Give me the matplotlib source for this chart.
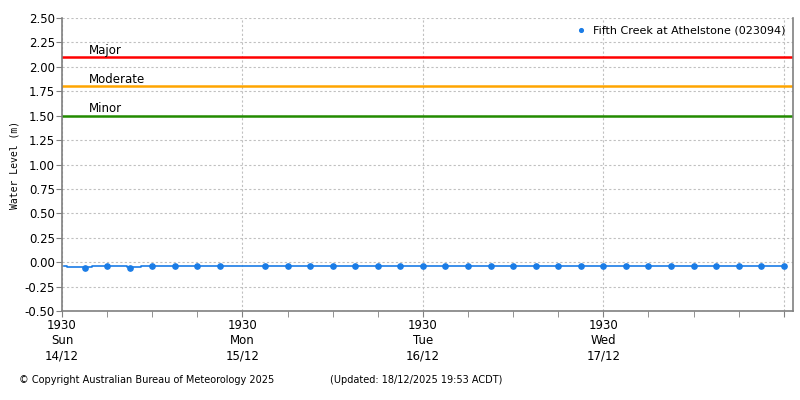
import matplotlib
matplotlib.use("Agg")
import matplotlib.pyplot as plt
import matplotlib.dates as mdates
import matplotlib.ticker as mticker
import pandas as pd

# Continuous level trace (steps where the reading changes)
line_times = ["2025-12-14 19:45", "2025-12-14 20:10", "2025-12-14 23:30",
              "2025-12-15 04:10", "2025-12-15 06:00", "2025-12-18 19:45"]
line_levels = [-0.04, -0.05, -0.035, -0.05, -0.035, -0.035]

# 3-hourly plotted readings
point_times = ["2025-12-14 22:30", "2025-12-15 01:30", "2025-12-15 04:30", "2025-12-15 07:30",
               "2025-12-15 10:30", "2025-12-15 13:30", "2025-12-15 16:30",
               "2025-12-15 22:30", "2025-12-16 01:30", "2025-12-16 04:30", "2025-12-16 07:30",
               "2025-12-16 10:30", "2025-12-16 13:30", "2025-12-16 16:30", "2025-12-16 19:30",
               "2025-12-16 22:30", "2025-12-17 01:30", "2025-12-17 04:30", "2025-12-17 07:30",
               "2025-12-17 10:30", "2025-12-17 13:30", "2025-12-17 16:30", "2025-12-17 19:30",
               "2025-12-17 22:30", "2025-12-18 01:30", "2025-12-18 04:30", "2025-12-18 07:30",
               "2025-12-18 10:30", "2025-12-18 13:30", "2025-12-18 16:30", "2025-12-18 19:30"]
point_levels = [-0.06, -0.04, -0.06, -0.04, -0.04, -0.04, -0.04,
                -0.04, -0.04, -0.04, -0.04, -0.04, -0.04, -0.04, -0.04,
                -0.04, -0.04, -0.04, -0.04, -0.04, -0.04, -0.04, -0.04,
                -0.04, -0.04, -0.04, -0.04, -0.04, -0.04, -0.04, -0.04]

flood_names = ["Major", "Moderate", "Minor"]
flood_levels = [2.1, 1.8, 1.5]
flood_colors = ["#ff0000", "#ffa500", "#228b00"]

day_ticks = ["2025-12-14 19:30", "2025-12-15 19:30", "2025-12-16 19:30",
             "2025-12-17 19:30", "2025-12-18 19:30"]
day_labels = ["1930\nSun\n14/12", "1930\nMon\n15/12", "1930\nTue\n16/12", "1930\nWed\n17/12", ""]

station = "Fifth Creek at Athelstone (023094)"

plt.rcParams['font.family'] = ['DejaVu Sans']
fig = plt.figure(figsize=(8, 4), dpi=100)
ax = fig.add_axes([0.0775, 0.2225, 0.914, 0.7325])

lt = pd.to_datetime(line_times)
pt = pd.to_datetime(point_times)
blue = "#1a7ce6"

x0 = pd.Timestamp("2025-12-14 19:30")
x1 = pd.Timestamp("2025-12-18 20:45")

for name, lvl, col in zip(flood_names, flood_levels, flood_colors):
    ax.axhline(lvl, color=col, lw=1.8, zorder=2)
    ax.text(x0 + pd.Timedelta(hours=3.6), lvl + 0.005, name, fontsize=8.5, va="bottom", ha="left")

ax.plot(lt, line_levels, drawstyle="steps-post", color=blue, lw=1.2, zorder=3)
ax.plot(pt, point_levels, "o", color=blue, ms=3.8, zorder=4, label=station)

ax.set_xlim(x0, x1)
ax.set_ylim(-0.5, 2.5)
ax.set_yticks([-0.5 + 0.25 * i for i in range(13)])
ax.yaxis.set_major_formatter(mticker.FormatStrFormatter("%.2f"))
major = pd.to_datetime(day_ticks)
ax.set_xticks(major)
ax.set_xticklabels(day_labels)
minor = [d + pd.Timedelta(hours=h) for d in major[:-1] for h in (6, 12, 18)]
ax.xaxis.set_minor_locator(mticker.FixedLocator(mdates.date2num(minor)))
ax.tick_params(axis="both", labelsize=8.5, color="#808080", length=4, pad=1)
ax.tick_params(axis="x", which="minor", length=4, color="#808080")
ax.tick_params(axis="x", which="major", pad=2)

ax.grid(True, color="#c0c0c0", linestyle=(0, (2, 2)), lw=0.8)
ax.set_axisbelow(True)
for s in ["left", "bottom", "right"]:
    ax.spines[s].set_color("#808080")
    ax.spines[s].set_linewidth(1.2)
ax.spines["top"].set_visible(False)

ax.set_ylabel("Water Level (m)", fontsize=7, family="DejaVu Sans Mono", labelpad=4)
ax.legend(loc="upper right", frameon=False, fontsize=8, handletextpad=0.1,
          markerscale=0.7, borderaxespad=0.3)

fig.text(0.024, 0.042, "\u00a9 Copyright Australian Bureau of Meteorology 2025", fontsize=7)
fig.text(0.412, 0.042, "(Updated: 18/12/2025 19:53 ACDT)", fontsize=7)

fig.savefig("out.png", dpi=100)
